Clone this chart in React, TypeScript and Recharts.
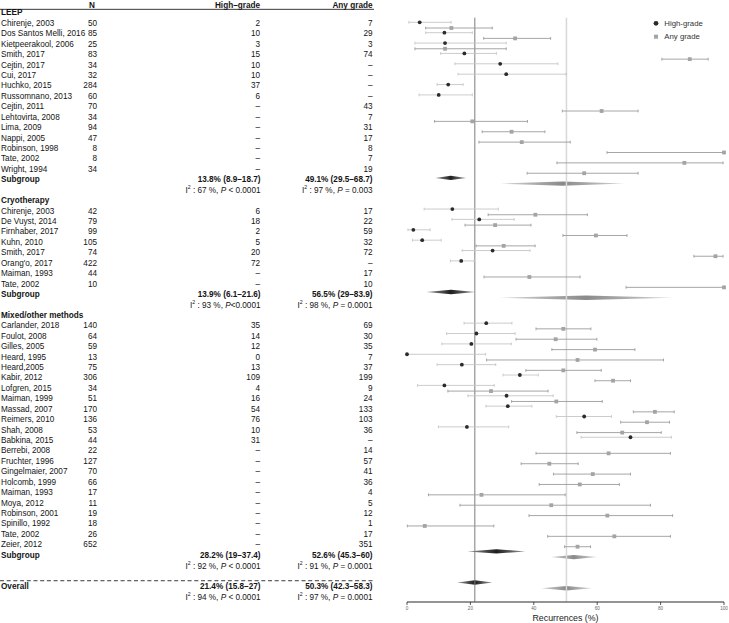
import React from "react";
import { ScatterChart, Scatter, XAxis, YAxis, ErrorBar, ReferenceLine, ReferenceArea } from "recharts";

type CI = [number, number, number] | null;

// ---------- LEEP ----------
const leepStudies = ["Chirenje, 2003", "Dos Santos Melli, 2016", "Kietpeerakool, 2006", "Smith, 2017", "Cejtin, 2017", "Cui, 2017", "Huchko, 2015", "Russomnano, 2013", "Cejtin, 2011", "Lehtovirta, 2008", "Lima, 2009", "Nappi, 2005", "Robinson, 1998", "Tate, 2002", "Wright, 1994"];
const leepN = [50, 85, 25, 83, 34, 32, 284, 60, 70, 34, 94, 47, 8, 8, 34];
const leepHighEvents = [2, 10, 3, 15, 10, 10, 37, 6, null, null, null, null, null, null, null];
const leepAnyEvents = [7, 29, 3, 74, null, null, null, null, 43, 7, 31, 17, 8, 7, 19];
const leepHighCI: CI[] = [[4.0, 0.6, 13.9], [11.8, 5.9, 20.6], [12.0, 2.5, 31.3], [18.1, 10.6, 28.2], [29.4, 15.1, 47.6], [31.3, 16.1, 50.2], [13.0, 9.5, 17.7], [10.0, 3.8, 20.6], null, null, null, null, null, null, null];
const leepAnyCI: CI[] = [[14.0, 5.9, 26.9], [34.1, 24.2, 45.3], [12.0, 2.5, 31.3], [89.2, 80.4, 95.0], null, null, null, null, [61.4, 49.0, 72.9], [20.6, 8.7, 38.0], [33.0, 23.7, 43.5], [36.2, 22.7, 51.5], [100, 63.1, 100], [87.5, 47.3, 99.7], [55.9, 37.9, 72.9]];

// ---------- Cryotherapy ----------
const cryoStudies = ["Chirenje, 2003", "De Vuyst, 2014", "Firnhaber, 2017", "Kuhn, 2010", "Smith, 2017", "Orang'o, 2017", "Maiman, 1993", "Tate, 2002"];
const cryoN = [42, 79, 99, 105, 74, 422, 44, 10];
const cryoHighEvents = [6, 18, 2, 5, 20, 72, null, null];
const cryoAnyEvents = [17, 22, 59, 32, 72, null, 17, 10];
const cryoHighCI: CI[] = [[14.3, 5.4, 28.8], [22.8, 14.2, 33.8], [2.0, 0.3, 7.3], [4.8, 1.7, 10.8], [27.0, 17.4, 38.8], [17.1, 13.7, 21.2], null, null];
const cryoAnyCI: CI[] = [[40.5, 25.6, 56.9], [27.8, 18.3, 39.1], [59.6, 49.2, 69.4], [30.5, 21.8, 40.4], [97.3, 90.5, 99.7], null, [38.6, 24.3, 54.6], [100, 69.1, 100]];

// ---------- Mixed/other methods ----------
const mixedStudies = ["Carlander, 2018", "Foulot, 2008", "Gilles, 2005", "Heard, 1995", "Heard,2005", "Kabir, 2012", "Lofgren, 2015", "Maiman, 1999", "Massad, 2007", "Reimers, 2010", "Shah, 2008", "Babkina, 2015", "Berrebi, 2008", "Fruchter, 1996", "Gingelmaier, 2007", "Holcomb, 1999", "Maiman, 1993", "Moya, 2012", "Robinson, 2001", "Spinillo, 1992", "Tate, 2002", "Zeier, 2012"];
const mixedN = [140, 64, 59, 13, 75, 306, 34, 51, 170, 136, 53, 44, 22, 127, 70, 66, 17, 11, 19, 18, 26, 652];
const mixedHighEvents = [35, 14, 12, 0, 13, 109, 4, 16, 54, 76, 10, 31, null, null, null, null, null, null, null, null, null, null];
const mixedAnyEvents = [69, 30, 35, 7, 37, 199, 9, 24, 133, 103, 36, null, 14, 57, 41, 36, 4, 5, 12, 1, 17, 351];
const mixedHighCI: CI[] = [[25.0, 18.0, 33.1], [21.9, 12.5, 34.1], [20.3, 11.0, 32.9], [0, 0, 24.8], [17.3, 9.5, 28.0], [35.6, 30.3, 41.4], [11.8, 3.3, 27.5], [31.4, 19.2, 46.1], [31.8, 24.9, 39.4], [55.9, 47.1, 64.5], [18.9, 9.9, 32.1], [70.5, 54.9, 83.4], null, null, null, null, null, null, null, null, null, null];
const mixedAnyCI: CI[] = [[49.3, 40.7, 58.0], [46.9, 34.4, 59.9], [59.3, 45.7, 71.9], [53.8, 25.1, 80.9], [49.3, 37.5, 61.3], [65.0, 59.3, 70.5], [26.5, 12.9, 44.5], [47.1, 33.0, 61.6], [78.2, 71.4, 84.3], [75.7, 67.4, 82.8], [67.9, 53.6, 80.2], null, [63.6, 40.7, 83.1], [44.9, 36.0, 54.0], [58.6, 46.2, 70.5], [54.5, 41.7, 67.0], [23.5, 6.8, 49.9], [45.5, 16.7, 76.8], [63.2, 38.5, 83.8], [5.6, 0.1, 27.4], [65.4, 44.4, 83.1], [53.8, 49.7, 57.9]];

// ---------- Pooled estimates ----------
const groupNames = ["LEEP", "Cryotherapy", "Mixed/other methods"];
const subgroupHigh: [number, number, number][] = [[13.8, 8.9, 18.7], [13.9, 6.1, 21.6], [28.2, 19, 37.4]];
const subgroupAny: [number, number, number][] = [[49.1, 29.5, 68.7], [56.5, 29, 83.9], [52.6, 45.3, 60]];
const subgroupHighI2 = ["67", "93", "92"];
const subgroupHighP = [" < 0.0001", "<0.0001", " < 0.0001"];
const subgroupAnyI2 = ["97", "98", "91"];
const subgroupAnyP = [" = 0.003", " = 0.0001", " = 0.0001"];
const overallHigh: [number, number, number] = [21.4, 15.8, 27];
const overallAny: [number, number, number] = [50.3, 42.3, 58.3];
const overallHighI2 = "94";
const overallHighP = " < 0.0001";
const overallAnyI2 = "97";
const overallAnyP = " = 0.0001";
const xTicks = [0, 20, 40, 60, 80, 100];

const groupStudies = [leepStudies, cryoStudies, mixedStudies];
const groupN = [leepN, cryoN, mixedN];
const groupHighEvents = [leepHighEvents, cryoHighEvents, mixedHighEvents];
const groupAnyEvents = [leepAnyEvents, cryoAnyEvents, mixedAnyEvents];
const groupHighCI = [leepHighCI, cryoHighCI, mixedHighCI];
const groupAnyCI = [leepAnyCI, cryoAnyCI, mixedAnyCI];

// ---------- build rows ----------
const FONT = '"Liberation Sans", Arial, Helvetica, sans-serif';
const AG_OFFSET = 0.55;
const fmt = (c: [number, number, number]) => `${c[0]}% (${c[1]}–${c[2]})`;

type Row = { x: number; y: number; kind: string; name?: string; n?: string; hg?: string; ag?: string; i2h?: string; ph?: string; i2a?: string; pa?: string };
type Pt = { x: number; y: number; errX: [number, number] };
type Dia = { y: number; ci: [number, number, number]; type: "hg" | "ag" };

const tableRows: Row[] = [];
const highPoints: Pt[] = [];
const anyPoints: Pt[] = [];
const diamonds: Dia[] = [];

tableRows.push({ x: 0, y: -1.75, kind: "header" });
tableRows.push({ x: 0, y: -1.25, kind: "rule" });
let row = -1;
groupNames.forEach((g, gi) => {
  tableRows.push({ x: 0, y: row, kind: "section", name: g });
  row++;
  groupStudies[gi].forEach((s, i) => {
    const he = groupHighEvents[gi][i];
    const ae = groupAnyEvents[gi][i];
    tableRows.push({ x: 0, y: row, kind: "study", name: s, n: String(groupN[gi][i]), hg: he === null ? "–" : String(he), ag: ae === null ? "–" : String(ae) });
    const hc = groupHighCI[gi][i];
    if (hc) highPoints.push({ x: hc[0], y: row, errX: [hc[0] - hc[1], hc[2] - hc[0]] });
    const ac = groupAnyCI[gi][i];
    if (ac) anyPoints.push({ x: ac[0], y: row + AG_OFFSET, errX: [ac[0] - ac[1], ac[2] - ac[0]] });
    row++;
  });
  tableRows.push({ x: 0, y: row, kind: "pooled", name: "Subgroup", hg: fmt(subgroupHigh[gi]), ag: fmt(subgroupAny[gi]) });
  diamonds.push({ y: row, ci: subgroupHigh[gi], type: "hg" });
  diamonds.push({ y: row + AG_OFFSET, ci: subgroupAny[gi], type: "ag" });
  row++;
  tableRows.push({ x: 0, y: row, kind: "het", i2h: subgroupHighI2[gi], ph: subgroupHighP[gi], i2a: subgroupAnyI2[gi], pa: subgroupAnyP[gi] });
  row++;
});
tableRows.push({ x: 0, y: row + 0.83, kind: "dash" });
row++;
tableRows.push({ x: 0, y: row, kind: "pooled", name: "Overall", hg: fmt(overallHigh), ag: fmt(overallAny) });
diamonds.push({ y: row, ci: overallHigh, type: "hg" });
diamonds.push({ y: row + AG_OFFSET, ci: overallAny, type: "ag" });
row++;
tableRows.push({ x: 0, y: row, kind: "het", i2h: overallHighI2, ph: overallHighP, i2a: overallAnyI2, pa: overallAnyP });

// ---------- drawing helpers ----------
const FS = 8.2;
const COL_NAME = 1;
const COL_N = 97;
const COL_HG = 260;
const COL_AG = 372.5;
const TXT = "#141414";

const Het = ({ x, y, i2, p }: { x: number; y: number; i2: string; p: string }) => (
  <text x={x} y={y} textAnchor="end" dominantBaseline="central" fontSize={FS} fill={TXT} fontFamily={FONT} style={{ whiteSpace: "pre" }}>
    <tspan>I</tspan>
    <tspan dy={-3} fontSize={5.2}>2</tspan>
    <tspan dy={3}>{` : ${i2} %, `}</tspan>
    <tspan fontStyle="italic">P</tspan>
    <tspan>{p}</tspan>
  </text>
);

const tableShape = (props: any) => {
  const r: Row = props.payload;
  const cy: number = props.cy;
  if (r.kind === "rule") return <line x1={0} x2={374} y1={cy} y2={cy} stroke="#222" strokeWidth={0.9} />;
  if (r.kind === "dash") return <line x1={0} x2={374} y1={cy} y2={cy} stroke="#222" strokeWidth={0.9} strokeDasharray="4 2.7" />;
  const ty = cy + 1 + 0.055 * r.y;
  const common = { dominantBaseline: "central" as const, fontSize: FS, fill: TXT, fontFamily: FONT };
  if (r.kind === "header") {
    return (
      <g>
        <text {...common} x={COL_N - 5} y={ty} textAnchor="middle" fontWeight="bold">N</text>
        <text {...common} x={COL_HG} y={ty} textAnchor="end" fontWeight="bold">High–grade</text>
        <text {...common} x={COL_AG} y={ty} textAnchor="end" fontWeight="bold">Any grade</text>
      </g>
    );
  }
  if (r.kind === "section") return <text {...common} x={COL_NAME} y={ty} fontWeight="bold">{r.name}</text>;
  if (r.kind === "study") {
    return (
      <g>
        <text {...common} x={COL_NAME} y={ty}>{r.name}</text>
        <text {...common} x={COL_N} y={ty} textAnchor="end">{r.n}</text>
        <text {...common} x={COL_HG} y={ty} textAnchor="end">{r.hg}</text>
        <text {...common} x={COL_AG} y={ty} textAnchor="end">{r.ag}</text>
      </g>
    );
  }
  if (r.kind === "pooled") {
    return (
      <g>
        <text {...common} x={COL_NAME} y={ty} fontWeight="bold">{r.name}</text>
        <text {...common} x={COL_HG + 0.5} y={ty} textAnchor="end" fontWeight="bold">{r.hg}</text>
        <text {...common} x={COL_AG} y={ty} textAnchor="end" fontWeight="bold">{r.ag}</text>
      </g>
    );
  }
  if (r.kind === "het") {
    return (
      <g>
        <Het x={COL_HG + 0.5} y={ty} i2={r.i2h || ""} p={r.ph || ""} />
        <Het x={COL_AG} y={ty} i2={r.i2a || ""} p={r.pa || ""} />
      </g>
    );
  }
  return <g />;
};

const highShape = (p: any) => <circle cx={p.cx} cy={p.cy} r={1.9} fill="#2b2b2b" />;
const anyShape = (p: any) => <rect x={p.cx - 1.9} y={p.cy - 1.9} width={3.8} height={3.8} fill="#a4a4a4" />;

const diamondShape = (d: Dia) => (props: any) => {
  const { x, y, width, height } = props;
  const [est, lo, hi] = d.ci;
  const px = x + (width * (est - lo)) / (hi - lo);
  return (
    <polygon
      points={`${x},${y + height / 2} ${px},${y} ${x + width},${y + height / 2} ${px},${y + height}`}
      fill={d.type === "hg" ? "url(#gradHG)" : "url(#gradAG)"}
    />
  );
};

export default function App() {
  return (
    <div style={{ position: "absolute", left: 0, top: 0, width: 729, height: 623, background: "#fff" }}>
      <ScatterChart width={729} height={623} margin={{ top: 0, right: 5, bottom: 0, left: 407 }}>
        <defs>
          <linearGradient id="gradHG" x1="0" y1="0" x2="1" y2="0">
            <stop offset="0%" stopColor="#9a9a9a" />
            <stop offset="50%" stopColor="#1e1e1e" />
            <stop offset="100%" stopColor="#9a9a9a" />
          </linearGradient>
          <linearGradient id="gradAG" x1="0" y1="0" x2="1" y2="0">
            <stop offset="0%" stopColor="#d6d6d6" />
            <stop offset="50%" stopColor="#8a8a8a" />
            <stop offset="100%" stopColor="#d6d6d6" />
          </linearGradient>
        </defs>
        <XAxis
          type="number"
          dataKey="x"
          domain={[0, 100]}
          ticks={xTicks}
          height={21}
          tickSize={3}
          tickMargin={2}
          tick={{ fontSize: 4.6, fill: "#666", fontFamily: FONT }}
          axisLine={{ stroke: "#2a2a2a", strokeWidth: 1.2 }}
          tickLine={{ stroke: "#2a2a2a", strokeWidth: 0.8 }}
          label={{ value: "Recurrences (%)", position: "insideBottom", offset: 2.5, fontSize: 8.8, fill: "#1a1a1a", fontFamily: FONT }}
        />
        <YAxis type="number" dataKey="y" domain={[-2.15, 55.88]} reversed hide />
        <ReferenceLine segment={[{ x: 50.3, y: -0.45 }, { x: 50.3, y: 55.85 }]} stroke="#d8d8d8" strokeWidth={1.5} />
        <ReferenceLine segment={[{ x: 21.4, y: -0.45 }, { x: 21.4, y: 55.85 }]} stroke="#7c7c7c" strokeWidth={1} />
        {diamonds.map((d, i) => (
          <ReferenceArea key={i} x1={d.ci[1]} x2={d.ci[2]} y1={d.y - 0.21} y2={d.y + 0.21} shape={diamondShape(d)} />
        ))}
        <Scatter data={tableRows} shape={tableShape} isAnimationActive={false} />
        <Scatter data={anyPoints} shape={anyShape} isAnimationActive={false}>
          <ErrorBar dataKey="errX" direction="x" width={1.4} stroke="#9c9c9c" strokeWidth={0.9} isAnimationActive={false} />
        </Scatter>
        <Scatter data={highPoints} shape={highShape} isAnimationActive={false}>
          <ErrorBar dataKey="errX" direction="x" width={1.4} stroke="#c6c6c6" strokeWidth={0.9} isAnimationActive={false} />
        </Scatter>
      </ScatterChart>
      <svg width={80} height={30} style={{ position: "absolute", left: 650, top: 16 }}>
        <circle cx={6} cy={7.3} r={2.4} fill="#2b2b2b" />
        <text x={14.3} y={7.3} dominantBaseline="central" fontSize={7.8} fill="#333" fontFamily={FONT}>High-grade</text>
        <rect x={4} y={18.7} width={4} height={4} fill="#a4a4a4" />
        <text x={14.3} y={20.7} dominantBaseline="central" fontSize={7.8} fill="#333" fontFamily={FONT}>Any grade</text>
      </svg>
    </div>
  );
}
